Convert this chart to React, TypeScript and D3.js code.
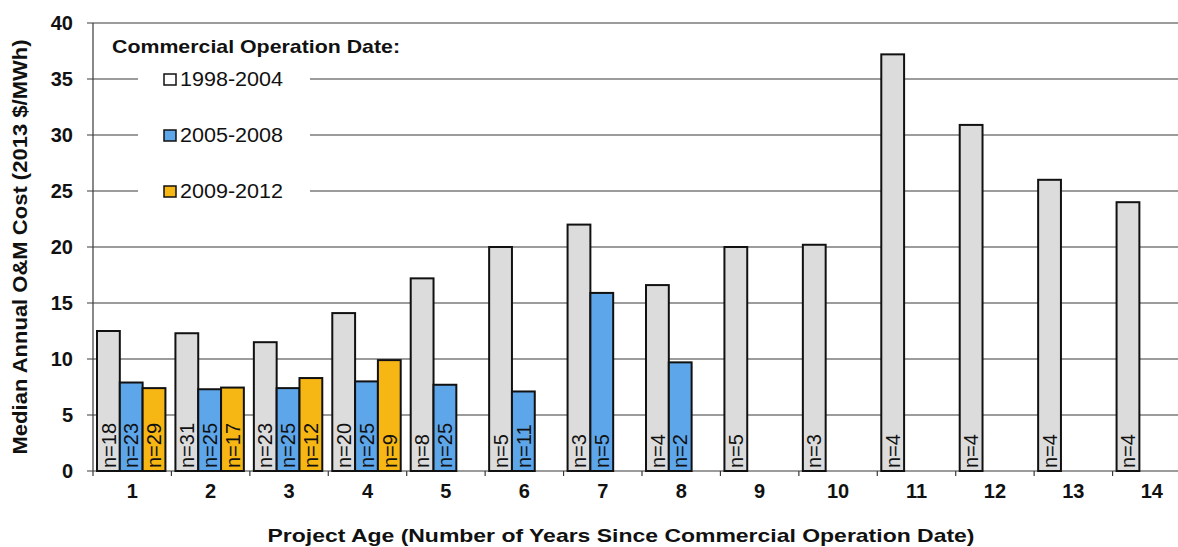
import React from "react";
import * as d3 from "d3";

const ages = ["1", "2", "3", "4", "5", "6", "7", "8", "9", "10", "11", "12", "13", "14"];
const seriesNames = ["1998-2004", "2005-2008", "2009-2012"];
const seriesColors = ["#dcdcdc", "#5ea6ea", "#f6b614"];
const cost9804 = [12.5, 12.3, 11.5, 14.1, 17.2, 20.0, 22.0, 16.6, 20.0, 20.2, 37.2, 30.9, 26.0, 24.0];
const cost0508 = [7.9, 7.3, 7.4, 8.0, 7.7, 7.1, 15.9, 9.7, null, null, null, null, null, null];
const cost0912 = [7.4, 7.45, 8.3, 9.9, null, null, null, null, null, null, null, null, null, null];
const n9804 = [18, 31, 23, 20, 8, 5, 3, 4, 5, 3, 4, 4, 4, 4];
const n0508 = [23, 25, 25, 25, 25, 11, 5, 2, null, null, null, null, null, null];
const n0912 = [29, 17, 12, 9, null, null, null, null, null, null, null, null, null, null];
const yTicks = [0, 5, 10, 15, 20, 25, 30, 35, 40];

const W = 1178;
const H = 547;
const left = 93;
const right = 1191;
const top = 23;
const bottom = 471;
const font = "'Liberation Sans', Arial, sans-serif";

export default function App() {
  const x = d3.scaleBand<string>().domain(ages).range([left, right]).paddingInner(0).paddingOuter(0);
  const y = d3.scaleLinear().domain([0, 40]).range([bottom, top]);
  const inner = d3.scaleBand<number>().domain([0, 1, 2]).range([4, x.bandwidth() - 6]).paddingInner(0);
  const values = [cost9804, cost0508, cost0912];
  const counts = [n9804, n0508, n0912];

  return (
    <svg width={W} height={H} style={{ position: "absolute", left: 0, top: 0, background: "#fff" }}>
      {/* gridlines */}
      {yTicks.map((t) => (
        <line key={"g" + t} x1={left - 6} x2={right} y1={y(t)} y2={y(t)} stroke="#3a3a3a" strokeWidth={1.2} />
      ))}
      {/* legend background */}
      <rect x={138} y={60} width={172} height={140} fill="#fff" />
      {/* y axis */}
      <line x1={left} x2={left} y1={top} y2={bottom} stroke="#3a3a3a" strokeWidth={1.2} />
      {yTicks.map((t) => (
        <text key={"yt" + t} x={73} y={y(t)} dy="0.36em" textAnchor="end" fontFamily={font} fontWeight="bold" fontSize={20} fill="#111">
          {t}
        </text>
      ))}
      {/* x ticks */}
      {ages.map((a, i) => (
        <line key={"xt" + a} x1={left + i * x.step()} x2={left + i * x.step()} y1={bottom} y2={bottom + 5} stroke="#3a3a3a" strokeWidth={1.2} />
      ))}
      {ages.map((a) => (
        <text key={"xl" + a} x={(x(a) as number) + x.bandwidth() / 2} y={498} textAnchor="middle" fontFamily={font} fontWeight="bold" fontSize={20} fill="#111">
          {a}
        </text>
      ))}
      {/* bars */}
      {values.map((vals, s) =>
        vals.map((v, i) => {
          if (v == null) return null;
          const bx = (x(ages[i]) as number) + (inner(s) as number);
          const bw = inner.bandwidth();
          const n = counts[s][i];
          return (
            <g key={"b" + s + "-" + i}>
              <rect x={bx} y={y(v)} width={bw} height={y(0) - y(v)} fill={seriesColors[s]} stroke="#111" strokeWidth={2} />
              <text
                transform={`translate(${bx + bw / 2},${bottom - 3}) rotate(-90)`}
                dy="0.36em"
                textAnchor="start"
                fontFamily={font}
                fontSize={20}
                fill="#111"
              >
                {"n=" + n}
              </text>
            </g>
          );
        })
      )}
      {/* legend */}
      <text x={112} y={53} fontFamily={font} fontWeight="bold" fontSize={19} textLength={288} lengthAdjust="spacingAndGlyphs" fill="#111">
        Commercial Operation Date:
      </text>
      {seriesNames.map((name, s) => {
        const cy = y(35 - s * 5);
        return (
          <g key={"lg" + s}>
            <rect x={164} y={cy - 5} width={12} height={11} fill={seriesColors[s] === "#dcdcdc" ? "#fff" : seriesColors[s]} stroke="#111" strokeWidth={1.5} />
            <text x={180} y={cy} dy="0.36em" fontFamily={font} fontSize={19.5} textLength={103} lengthAdjust="spacingAndGlyphs" fill="#111">
              {name}
            </text>
          </g>
        );
      })}
      {/* axis titles */}
      <text x={621} y={542} textAnchor="middle" fontFamily={font} fontWeight="bold" fontSize={19} textLength={707} lengthAdjust="spacingAndGlyphs" fill="#111">
        Project Age (Number of Years Since Commercial Operation Date)
      </text>
      <text transform={`translate(27,247) rotate(-90)`} textAnchor="middle" fontFamily={font} fontWeight="bold" fontSize={20} textLength={415} lengthAdjust="spacingAndGlyphs" fill="#111">
        Median Annual O&amp;M Cost (2013 $/MWh)
      </text>
    </svg>
  );
}
